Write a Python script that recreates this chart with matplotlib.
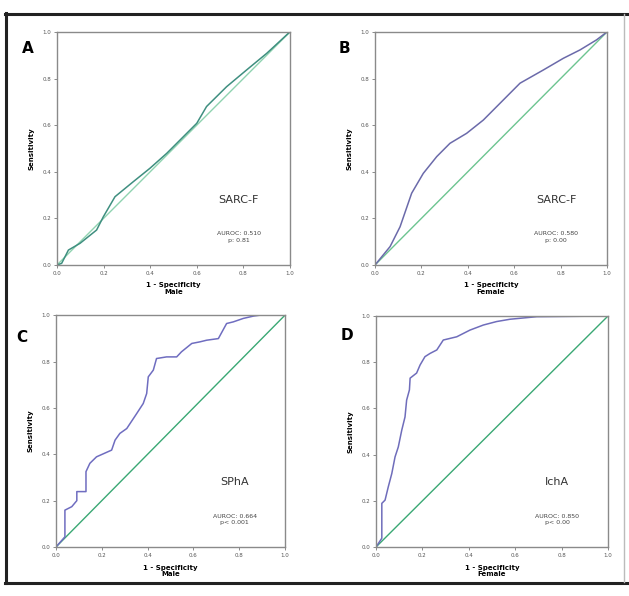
import numpy as np
import matplotlib.pyplot as plt

# dados das curvas ROC
a_fpr = [0.0, 0.02, 0.049, 0.099, 0.17, 0.199, 0.249, 0.327, 0.399, 0.471, 0.528, 0.6, 0.642, 0.728, 0.814, 0.9, 0.993, 1.0]
a_tpr = [0.0, 0.007, 0.064, 0.093, 0.15, 0.207, 0.293, 0.357, 0.415, 0.479, 0.536, 0.608, 0.68, 0.765, 0.837, 0.908, 0.994, 1.0]

b_fpr = [0.0, 0.065, 0.108, 0.158, 0.208, 0.266, 0.323, 0.395, 0.467, 0.553, 0.625, 0.726, 0.812, 0.884, 0.955, 1.0]
b_tpr = [0.0, 0.079, 0.164, 0.308, 0.393, 0.465, 0.522, 0.565, 0.622, 0.708, 0.78, 0.837, 0.887, 0.923, 0.966, 1.0]

c_fpr = [0.0, 0.039, 0.039, 0.069, 0.091, 0.091, 0.131, 0.131, 0.148, 0.177, 0.243, 0.258, 0.279, 0.309, 0.352,
         0.381, 0.396, 0.403, 0.425, 0.439, 0.483, 0.527, 0.548, 0.593, 0.629, 0.658, 0.709, 0.745, 0.774, 0.818,
         0.862, 0.891, 1.0]
c_tpr = [0.0, 0.044, 0.159, 0.174, 0.2, 0.239, 0.239, 0.325, 0.361, 0.389, 0.418, 0.461, 0.49, 0.511, 0.575,
         0.619, 0.662, 0.734, 0.763, 0.813, 0.82, 0.82, 0.842, 0.878, 0.885, 0.892, 0.899, 0.964, 0.971, 0.986,
         0.996, 1.0, 1.0]

d_fpr = [0.0, 0.025, 0.025, 0.039, 0.053, 0.068, 0.082, 0.096, 0.111, 0.125, 0.132, 0.144, 0.147, 0.175, 0.19,
         0.211, 0.233, 0.262, 0.29, 0.348, 0.405, 0.463, 0.52, 0.578, 0.693, 1.0]
d_tpr = [0.0, 0.038, 0.189, 0.203, 0.261, 0.318, 0.39, 0.433, 0.506, 0.563, 0.636, 0.68, 0.731, 0.753, 0.788,
         0.824, 0.838, 0.853, 0.896, 0.91, 0.939, 0.961, 0.976, 0.986, 0.997, 1.0]

letras = ['A', 'B', 'C', 'D']
grupos = ['Male', 'Female', 'Male', 'Female']
nomes = ['SARC-F', 'SARC-F', 'SPhA', 'IchA']
aurocs = ['AUROC: 0.510\np: 0.81', 'AUROC: 0.580\np: 0.00', 'AUROC: 0.664\np< 0.001', 'AUROC: 0.850\np< 0.00']
ticks = [0.0, 0.2, 0.4, 0.6, 0.8, 1.0]
tick_labels = ['0.0', '0.2', '0.4', '0.6', '0.8', '1.0']

curvas = [(a_fpr, a_tpr), (b_fpr, b_tpr), (c_fpr, c_tpr), (d_fpr, d_tpr)]
cor_curva = ['#3f8f80', '#6b6aaa', '#6f6dc0', '#6f6dbb']
cor_diag = ['#8fd3b0', '#6cc490', '#3aa874', '#3aa874']

# posicoes dos eixos em fracao da figura
posicoes = [[0.0906, 0.5554, 0.3704, 0.391],
            [0.5962, 0.5554, 0.3688, 0.391],
            [0.0890, 0.0822, 0.3641, 0.389],
            [0.5978, 0.0822, 0.3688, 0.3876]]
pos_letra = [(-0.125, 0.93), (-0.13, 0.93), (-0.15, 0.905), (-0.125, 0.915)]

fig = plt.figure(figsize=(6.29, 5.96), dpi=100)

# moldura preta
fig.add_artist(plt.Line2D([5/629, 629/629], [1 - 13.5/596, 1 - 13.5/596], color='#222222', lw=2.2))
fig.add_artist(plt.Line2D([5.5/629, 5.5/629], [1 - 13/596, 1 - 583/596], color='#222222', lw=2.2))
fig.add_artist(plt.Line2D([5/629, 629/629], [1 - 583/596, 1 - 583/596], color='#222222', lw=2.2))
fig.add_artist(plt.Line2D([624/629, 624/629], [1 - 14/596, 1 - 582/596], color='#bbbbbb', lw=1.0))

for i in range(4):
    ax = fig.add_axes(posicoes[i])
    fpr, tpr = curvas[i]
    ax.plot([0, 1], [0, 1], color=cor_diag[i], lw=1.0)
    ax.plot(fpr, tpr, color=cor_curva[i], lw=1.1)
    ax.set_xlim(0, 1)
    ax.set_ylim(0, 1)
    ax.set_xticks(ticks)
    ax.set_yticks(ticks)
    ax.set_xticklabels(tick_labels, fontsize=4, color='#555555')
    ax.set_yticklabels(tick_labels, fontsize=4, color='#555555')
    ax.tick_params(length=2, width=0.6, color='#777777', pad=2)
    for s in ax.spines.values():
        s.set_color('#8a8a8a')
        s.set_linewidth(1.0)
    ax.set_ylabel('Sensitivity', fontsize=5, fontweight='bold', labelpad=6)
    ax.set_xlabel('1 - Specificity\n' + grupos[i], fontsize=5, fontweight='bold', labelpad=5, linespacing=1.1)
    ax.text(0.78, 0.28, nomes[i], fontsize=8, ha='center', va='center', color='#333333')
    ax.text(0.78, 0.12, aurocs[i], fontsize=4.5, ha='center', va='center', color='#444444', linespacing=1.3)
    ax.text(pos_letra[i][0], pos_letra[i][1], letras[i], transform=ax.transAxes, fontsize=11,
            fontweight='bold', ha='center', va='center')

fig.savefig('out.png', dpi=100)
